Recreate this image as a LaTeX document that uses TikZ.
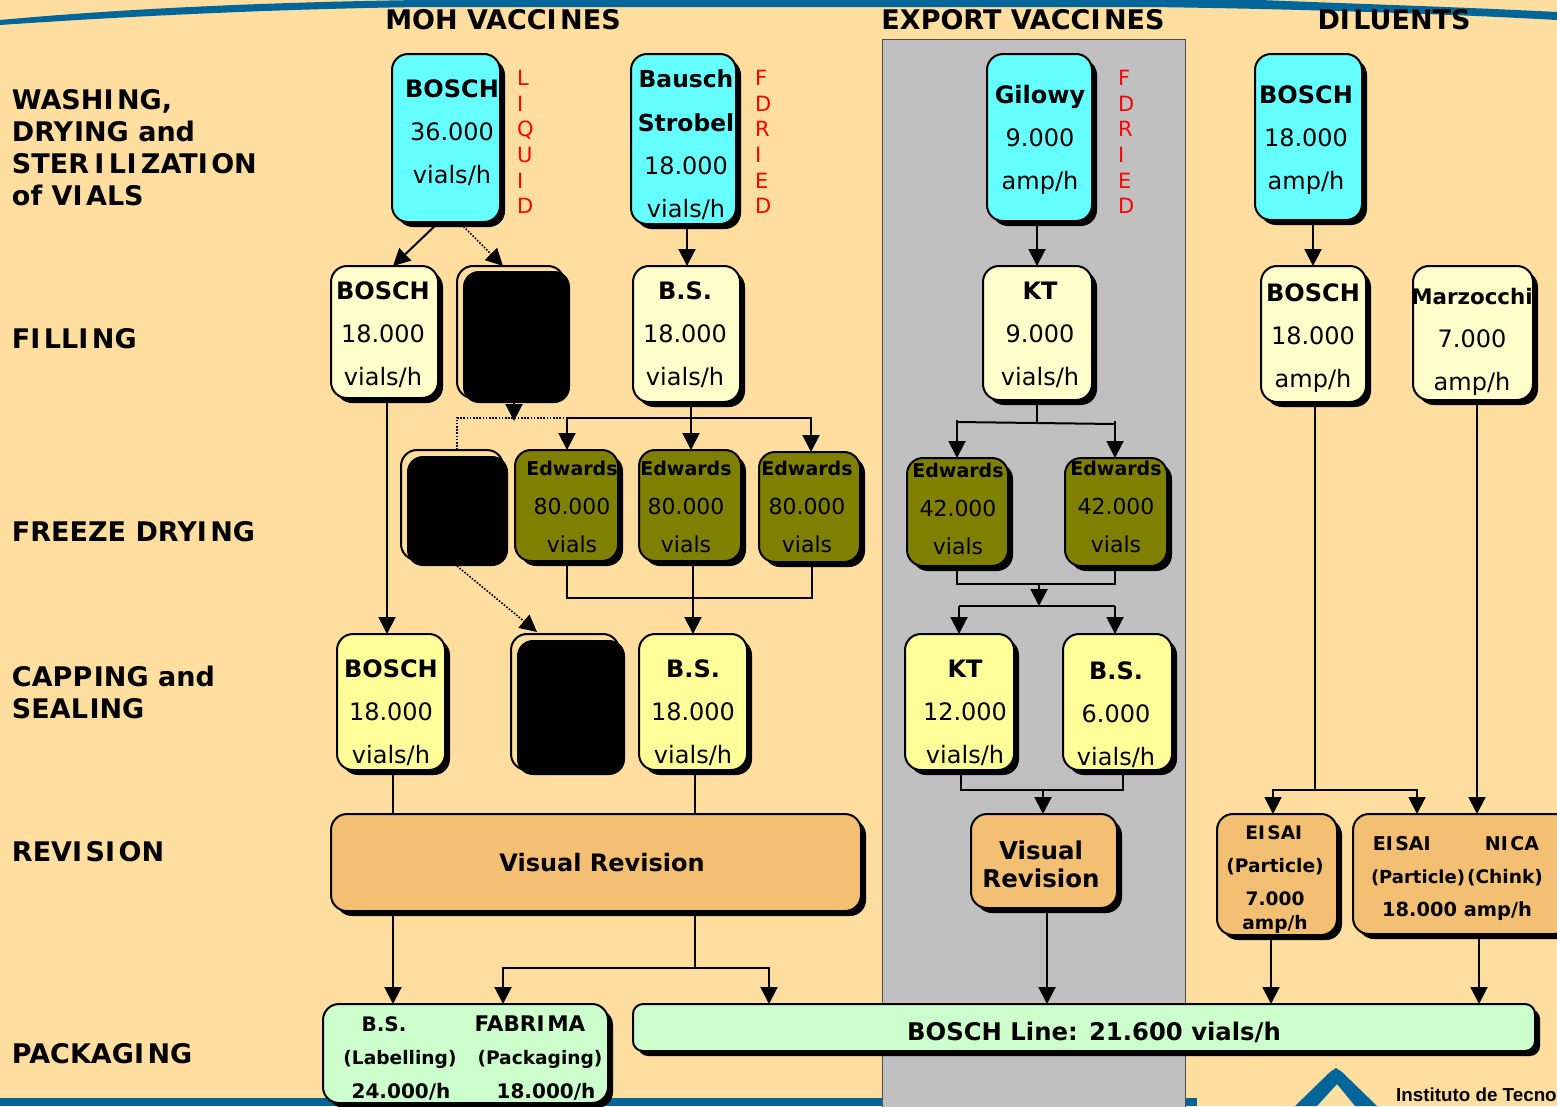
\documentclass[tikz,border=0pt]{standalone}
\usepackage{fontspec}
\setmainfont{DejaVu Sans}
\newfontfamily\logofont{Liberation Sans}
\usetikzlibrary{arrows.meta,calc,shadows}
\definecolor{bgpeach}{HTML}{FFDE9F}
\definecolor{panelgray}{HTML}{C0C0C0}
\definecolor{bandblue}{HTML}{006699}
\definecolor{cyanbox}{HTML}{66FFFF}
\definecolor{paleyellow}{HTML}{FFFFCC}
\definecolor{capyellow}{HTML}{FFFF99}
\definecolor{olivebox}{HTML}{7F7F00}
\definecolor{tanbox}{HTML}{F2BF73}
\definecolor{greenbox}{HTML}{CCFFCC}
\newcommand\Ik{I\kern.13em }
\tikzset{
  x=1pt,y=-1pt,
  boxbase/.style={draw=black,line width=2pt,rounded corners=16pt,inner sep=0pt,outer sep=0pt,
    general shadow={fill=black,shadow xshift=5pt,shadow yshift=-5pt}},
  cyanstyle/.style={boxbase,fill=cyanbox},
  palestyle/.style={boxbase,fill=paleyellow},
  capstyle/.style={boxbase,fill=capyellow},
  olivestyle/.style={boxbase,fill=olivebox},
  tanstyle/.style={boxbase,fill=tanbox},
  greenstyle/.style={boxbase,fill=greenbox},
  linestyle/.style={boxbase,fill=greenbox,rounded corners=10pt},
  hiddenbox/.style={draw=black,line width=2pt,rounded corners=16pt,inner sep=0pt,outer sep=0pt,fill=bgpeach},
  hiddenfill/.style={fill=black,rounded corners=16pt,inner sep=0pt,outer sep=0pt},
  txtnode/.style={inner sep=0pt,outer sep=0pt,align=center,text=black},
  rowlabel/.style={inner sep=0pt,outer sep=0pt,align=left,anchor=west,text=black,font=\fontsize{27}{32}\selectfont\bfseries},
  sidered/.style={inner sep=0pt,outer sep=0pt,align=left,anchor=west,text=red,font=\fontsize{21}{25.6}\selectfont},
  conn/.style={draw=black,line width=2pt},
  arr/.style={conn,-{Triangle[length=17pt,width=17pt]}},
  dotconn/.style={draw=black,line width=1.6pt,dash pattern=on 1.6pt off 1.6pt},
  dotarr/.style={dotconn,-{Triangle[length=17pt,width=17pt]}},
}
\newcommand\bx[6]{\node[#6,minimum width={(#4-#2)*1pt},minimum height={(#5-#3)*1pt}] (#1) at ({(#2+#4)/2},{(#3+#5)/2}) {};}
\newcommand\tx[6]{\node[txtnode,font=\fontsize{#4}{#5}\selectfont] (#1) at (#2,#3) {#6};}
\begin{document}
\begin{tikzpicture}
\useasboundingbox (0,0) rectangle (1557,1106);
\clip (0,0) rectangle (1557,1106);
\fill[bgpeach] (0,0) rectangle (1557,1106);
% decorative bands
\fill[bandblue] (0,20) .. controls (130,8) and (280,2) .. (420,0) -- (1260,0)
  .. controls (1360,4) and (1460,7) .. (1557,12) -- (1557,20)
  .. controls (1450,14) and (1300,9) .. (1150,7) -- (420,7)
  .. controls (280,9) and (130,16) .. (0,25) -- cycle;
\fill[bandblue] (0,1098) rectangle (1197,1106);
\draw[fill=panelgray,draw=black!70,line width=1pt] (882.5,39) rectangle (1185,1110);
% logo
\fill[bandblue] (1295,1106) -- (1330,1072) -- (1336,1068) -- (1342,1072) -- (1377,1106) -- (1355,1106) -- (1337,1084) -- (1317,1106) -- cycle;
\node[inner sep=0pt,anchor=west,font=\fontsize{18.8}{20}\logofont\bfseries] (logotext) at (1396,1095) {Instituto de Tecno};

% titles
\node[txtnode,font=\fontsize{27}{30}\selectfont\bfseries] (titleA) at (503,20) {MOH VACC\Ik NES};
\node[txtnode,font=\fontsize{27}{30}\selectfont\bfseries] (titleB) at (1023,20) {EXPORT VACC\Ik NES};
\node[txtnode,font=\fontsize{27}{30}\selectfont\bfseries] (titleC) at (1394,20) {D\Ik LUENTS};
% row labels
\node[rowlabel] (rowA) at (12,147.5) {WASH\Ik NG,\\DRY\kern.03em ING and\\STER\kern.2em I\kern.16em L\kern.02em I\kern.16em ZAT\Ik ON\\of V\Ik ALS};
\node[rowlabel] (rowB) at (12,339) {F\Ik LL\Ik NG};
\node[rowlabel] (rowC) at (12,532) {FREEZE DRY\Ik NG};
\node[rowlabel] (rowD) at (12,692) {CAPP\kern.06em ING and\\SEAL\kern.06em ING};
\node[rowlabel] (rowE) at (12,852) {REV\Ik S\Ik ON};
\node[rowlabel] (rowF) at (12,1054) {PACKAG\Ik NG};

% washing
\bx{washA}{392}{54}{500}{222}{cyanstyle}
\bx{washB}{631}{54}{736}{224}{cyanstyle}
\bx{washC}{987}{54}{1092}{221}{cyanstyle}
\bx{washD}{1255}{54}{1362}{220}{cyanstyle}
% filling
\bx{fillA}{331}{266}{438}{398}{palestyle}
\bx{fillB}{457}{266}{564}{398}{hiddenbox}
\bx{fillBs}{463}{271}{570}{403}{hiddenfill}
\bx{fillC}{633}{266}{740}{402}{palestyle}
\bx{fillD}{983}{266}{1092}{400}{palestyle}
\bx{fillE}{1261}{266}{1366}{402}{palestyle}
\bx{fillF}{1413}{266}{1533}{400}{palestyle}
% freeze drying
\bx{frzA}{401}{450}{503}{560}{hiddenbox}
\bx{frzAs}{407}{456}{508}{566}{hiddenfill}
\bx{frzB}{515}{450}{618}{561}{olivestyle}
\bx{frzC}{639}{450}{741}{561}{olivestyle}
\bx{frzD}{759}{452}{860}{562}{olivestyle}
\bx{frzE}{907}{458}{1008}{566}{olivestyle}
\bx{frzF}{1065}{458}{1167}{566}{olivestyle}
% capping
\bx{capA}{337}{634}{445}{770}{capstyle}
\bx{capB}{511}{634}{619}{770}{hiddenbox}
\bx{capBs}{517}{640}{625}{775}{hiddenfill}
\bx{capC}{639}{634}{747}{770}{capstyle}
\bx{capD}{905}{634}{1014}{770}{capstyle}
\bx{capE}{1063}{634}{1172}{770}{capstyle}
% revision
\bx{revA}{331}{814}{861}{911}{tanstyle}
\bx{revB}{971}{814}{1117}{908}{tanstyle}
\bx{revC}{1217}{814}{1337}{935}{tanstyle}
\bx{revD}{1353}{814}{1570}{934}{tanstyle}
% packaging
\bx{packA}{323}{1004}{608}{1103}{greenstyle}
\bx{packB}{633}{1004}{1535}{1051}{linestyle}

% connectors
\draw[arr] (439,0 |- washA.south) -- (393,0 |- fillA.north);
\draw[dotarr] (459,0 |- washA.south) -- (503,0 |- fillB.north);
\draw[arr] (687,0 |- washB.south) -- (687,0 |- fillC.north);
\draw[arr] (1037,0 |- washC.south) -- (1037,0 |- fillD.north);
\draw[arr] (1313,0 |- washD.south) -- (1313,0 |- fillE.north);

\draw[dotconn] (457,0 |- frzA.north) -- (457,418) -- (566,418);
\draw[arr] (514,0 |- fillBs.south) -- (514,421);
\coordinate (jA) at (691,418);
\draw[conn] (691,0 |- fillC.south) -- (jA);
\draw[arr] (jA) -- (567,418) -- (567,0 |- frzB.north);
\draw[arr] (jA) -- (691,0 |- frzC.north);
\draw[arr] (jA) -- (811,418) -- (811,0 |- frzD.north);
\draw[arr] (387,0 |- fillA.south) -- (387,0 |- capA.north);
\coordinate (jB) at (693,598);
\draw[conn] (567,0 |- frzB.south) -- (567,598) -- (812,598) -- (812,0 |- frzD.south);
\draw[conn] (693,0 |- frzC.south) -- (jB);
\draw[arr] (jB) -- (693,0 |- capC.north);
\draw[dotarr] (457,0 |- frzAs.south) -- (537,632);

\coordinate (jC) at (1037,422);
\coordinate (jCl) at (957,422);
\coordinate (jCr) at (1115,424);
\coordinate (jCrt) at (1115,421);
\draw[conn] (1037,0 |- fillD.south) -- (jC);
\draw[conn] (jCl) -- (jCr);
\draw[arr] (957,420) -- (957,0 |- frzE.north);
\draw[arr] (jCrt) -- (1115,0 |- frzF.north);
\coordinate (jD) at (1039,584);
\coordinate (jE) at (1039,606);
\draw[conn] (957,0 |- frzE.south) -- (957,584) -- (1115,584) -- (1115,0 |- frzF.south);
\draw[arr] (jD) -- (jE);
\draw[conn] (959,606) -- (1115,606);
\draw[arr] (959,606) -- (959,0 |- capD.north);
\draw[arr] (1115,606) -- (1115,0 |- capE.north);
\coordinate (jF) at (1043,790);
\draw[conn] (961,0 |- capD.south) -- (961,790) -- (1123,790) -- (1123,0 |- capE.south);
\draw[arr] (jF) -- (1043,0 |- revB.north);

\draw[conn] (393,0 |- capA.south) -- (393,0 |- revA.north);
\draw[conn] (695,0 |- capC.south) -- (695,0 |- revA.north);
\draw[arr] (393,0 |- revA.south) -- (393,0 |- packA.north);
\coordinate (jG) at (695,968);
\draw[conn] (695,0 |- revA.south) -- (jG);
\draw[arr] (jG) -- (503,968) -- (503,0 |- packA.north);
\draw[arr] (jG) -- (769,968) -- (769,0 |- packB.north);
\draw[arr] (1047,0 |- revB.south) -- (1047,0 |- packB.north);

\coordinate (jH) at (1315,790);
\draw[conn] (1315,0 |- fillE.south) -- (jH);
\draw[arr] (jH) -- (1273,790) -- (1273,0 |- revC.north);
\draw[arr] (jH) -- (1417,790) -- (1417,0 |- revD.north);
\draw[arr] (1477,0 |- fillF.south) -- (1477,0 |- revD.north);
\draw[arr] (1271,0 |- revC.south) -- (1271,0 |- packB.north);
\draw[arr] (1479,0 |- revD.south) -- (1479,0 |- packB.north);

% box texts
\tx{twashA}{452}{133}{24}{43}{\textbf{BOSCH}\\36.000\\vials/h}
\tx{twashB}{686}{145}{24}{43.3}{{\fontsize{23.4}{23}\selectfont\textbf{Bausch}}\\{\fontsize{23.4}{23}\selectfont\textbf{Strobel}}\\18.000\\vials/h}
\tx{twashC}{1040}{140}{24}{43}{\textbf{Gilowy}\\9.000\\amp/h}
\tx{twashD}{1306}{140}{24}{43}{\textbf{BOSCH}\\18.000\\amp/h}
\tx{tfillA}{383}{335}{24}{43}{\textbf{BOSCH}\\18.000\\vials/h}
\tx{tfillC}{685}{335}{24}{43}{\textbf{B.S.}\\18.000\\vials/h}
\tx{tfillD}{1040}{335}{24}{43}{\textbf{KT}\\9.000\\vials/h}
\tx{tfillE}{1313}{338}{24}{43}{\textbf{BOSCH}\\18.000\\amp/h}
\tx{tfillF}{1472}{342}{24}{43}{{\fontsize{21.4}{22}\selectfont\textbf{Marzocchi}}\\7.000\\amp/h}
\tx{tfrzB}{572}{507}{22}{38.5}{{\fontsize{19}{19}\selectfont\textbf{Edwards}}\\80.000\\vials}
\tx{tfrzC}{686}{507}{22}{38.5}{{\fontsize{19}{19}\selectfont\textbf{Edwards}}\\80.000\\vials}
\tx{tfrzD}{807}{507}{22}{38.5}{{\fontsize{19}{19}\selectfont\textbf{Edwards}}\\80.000\\vials}
\tx{tfrzE}{958}{509}{22}{38.5}{{\fontsize{19}{19}\selectfont\textbf{Edwards}}\\42.000\\vials}
\tx{tfrzF}{1116}{507}{22}{38.5}{{\fontsize{19}{19}\selectfont\textbf{Edwards}}\\42.000\\vials}
\tx{tcapA}{391}{713}{24}{43}{\textbf{BOSCH}\\18.000\\vials/h}
\tx{tcapC}{693}{713}{24}{43}{\textbf{B.S.}\\18.000\\vials/h}
\tx{tcapD}{965}{713}{24}{43}{\textbf{KT}\\12.000\\vials/h}
\tx{tcapE}{1116}{715}{24}{43}{\textbf{B.S.}\\6.000\\vials/h}
\tx{trevA}{602}{863}{24}{28}{\textbf{Visual Revision}}
\tx{trevB}{1041}{864}{24.5}{28}{\textbf{Visual}\\\textbf{Revision}}
\tx{trevC}{1275}{880}{18.6}{33}{\textbf{E\Ik SA\Ik }\\\textbf{(Particle)}\\\textbf{7.000}\\[-9pt]\textbf{amp/h}}
\tx{trevDa}{1403}{844}{19}{24}{\textbf{E\Ik SA\Ik }}
\tx{trevDb}{1512}{844}{19}{24}{\textbf{N\Ik CA}}
\tx{trevDc}{1418}{878}{18}{24}{\textbf{(Particle)}}
\tx{trevDd}{1505}{878}{18.6}{24}{\textbf{(Chink)}}
\tx{trevDe}{1457}{911}{19.4}{24}{\textbf{18.000 amp/h}}
\tx{tpackA}{384}{1024}{20}{24}{\textbf{B.S.}}
\tx{tpackB}{530}{1024}{21.5}{24}{\textbf{FABR\Ik MA}}
\tx{tpackC}{400}{1059}{18.6}{24}{\textbf{(Labelling)}}
\tx{tpackD}{540}{1059}{18.6}{24}{\textbf{(Packaging)}}
\tx{tpackE}{401}{1092}{20}{24}{\textbf{24.000/h}}
\tx{tpackF}{546}{1092}{20}{24}{\textbf{18.000/h}}
\tx{tpackG}{1094}{1032}{24.3}{28}{\textbf{BOSCH Line: 21.600 vials/h}}

% side letters
\node[sidered] (sideA) at (517,142) {L\\I\\Q\\U\\I\\D};
\node[sidered] (sideB) at (755,142) {F\\D\\R\\I\\E\\D};
\node[sidered] (sideC) at (1118,142) {F\\D\\R\\I\\E\\D};
\end{tikzpicture}
\end{document}
